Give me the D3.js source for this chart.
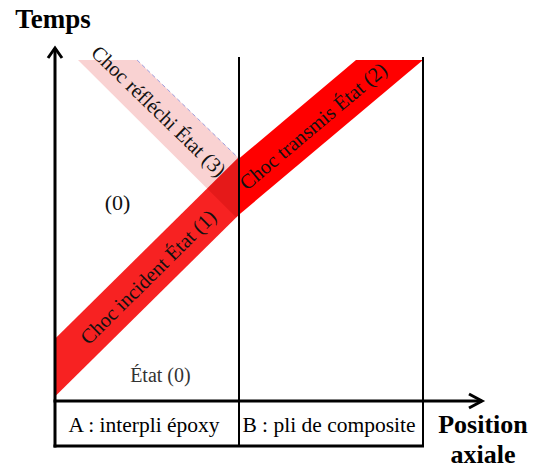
<!DOCTYPE html>
<html>
<head>
<meta charset="utf-8">
<script src="https://cdn.jsdelivr.net/npm/d3@7"></script>
<style>
  html, body { margin: 0; padding: 0; background: #fff; }
  svg { display: block; }
  text { font-family: "Liberation Serif", "Times New Roman", serif; }
</style>
</head>
<body>
<svg id="chart" width="536" height="469"></svg>
<script>
// ---------- data (position in layer units, time normalised 0..1) ----------
const layers = ["A : interpli époxy", "B : pli de composite"];
const interfaces = [0, 1, 2];

// band outlines [position, time]
const incidentBand    = [[0, 0.01], [0, 0.18], [1, 0.715], [1, 0.545]];
const transmittedBand = [[1, 0.545], [1, 0.71], [1.636, 1], [2, 1]];
const reflectedBand   = [[0.125, 1], [0.446, 1], [1, 0.71], [1, 0.545], [0.985, 0.537]];
const reflectedDashed = [[0.446, 1], [1, 0.71]];

// band labels: text, centre [position, time], band edge used for direction
const bandLabels = [
  { text: "Choc incident État (1)", at: [0.505, 0.362], edge: [[0, 0.01], [1, 0.545]] },
  { text: "Choc transmis État (2)", at: [1.402, 0.806], edge: [[1, 0.545], [2, 1]] },
  { text: "Choc réfléchi État (3)", at: [0.565, 0.85], edge: [[1, 0.71], [0.446, 1]] }
];
const stateLabels = [
  { text: "(0)",      at: [0.34, 0.582], size: 22, color: "#111" },
  { text: "État (0)", at: [0.573, 0.073], size: 20, color: "#333" }
];
const axisTitles = { y: "Temps", x: ["Position", "axiale"] };

// ---------- layout ----------
const svg = d3.select("#chart");
const x = d3.scaleLinear().domain([0, 2]).range([55, 423]);
const y = d3.scaleLinear().domain([0, 1]).range([400, 60]);
const axisY = 401, tableBottom = 446, yTop = 47, xEnd = 483, lineTop = 57;

const line = d3.line().x(d => x(d[0])).y(d => y(d[1]));
const poly = pts => line(pts) + "Z";

const defs = svg.append("defs");
defs.append("clipPath").attr("id", "clipInc").append("path").attr("d", poly(incidentBand));

// reflected band (pink)
svg.append("path").attr("d", poly(reflectedBand)).attr("fill", "#f9d2d2");
svg.append("path").attr("d", line(reflectedDashed))
  .attr("fill", "none").attr("stroke", "#9e9ee0").attr("stroke-width", 1)
  .attr("stroke-dasharray", "4,3");
// incident band
svg.append("path").attr("d", poly(incidentBand)).attr("fill", "#f72222");
// overlap reflected/incident (darker)
svg.append("path").attr("d", poly(reflectedBand)).attr("clip-path", "url(#clipInc)")
  .attr("fill", "#b00000").attr("opacity", 0.25);
// transmitted band
svg.append("path").attr("d", poly(transmittedBand)).attr("fill", "#ff0000");

// interfaces lines
svg.selectAll("line.iface").data(interfaces.slice(1)).join("line")
  .attr("class", "iface")
  .attr("x1", d => x(d)).attr("x2", d => x(d))
  .attr("y1", lineTop).attr("y2", tableBottom)
  .attr("stroke", "#000").attr("stroke-width", 2);

// axes
const ax = svg.append("g").attr("stroke", "#000").attr("fill", "none").attr("stroke-width", 3);
ax.append("line").attr("x1", x(0)).attr("x2", x(0)).attr("y1", yTop + 1).attr("y2", tableBottom + 1.5);
ax.append("path").attr("d", `M${x(0) - 7},${yTop + 11}L${x(0)},${yTop + 1}L${x(0) + 7},${yTop + 11}`);
ax.append("line").attr("x1", x(0) - 1.5).attr("x2", xEnd - 1).attr("y1", axisY).attr("y2", axisY);
ax.append("path").attr("d", `M${xEnd - 14},${axisY - 7}L${xEnd - 1},${axisY}L${xEnd - 14},${axisY + 7}`);
ax.append("line").attr("x1", x(0) - 1.5).attr("x2", x(2) + 1).attr("y1", tableBottom).attr("y2", tableBottom);

// table labels
svg.selectAll("text.layer").data(layers).join("text")
  .attr("class", "layer")
  .attr("x", (d, i) => (x(interfaces[i]) + x(interfaces[i + 1])) / 2 - (i === 0 ? 3 : 2))
  .attr("y", 432)
  .attr("text-anchor", "middle").attr("font-size", 21.5).attr("fill", "#000")
  .text(d => d);

// band labels
svg.selectAll("text.band").data(bandLabels).join("text")
  .attr("class", "band")
  .attr("transform", d => {
    const a = Math.atan2(y(d.edge[1][1]) - y(d.edge[0][1]), x(d.edge[1][0]) - x(d.edge[0][0])) * 180 / Math.PI;
    const ang = a > 90 ? a - 180 : (a < -90 ? a + 180 : a);
    return `translate(${x(d.at[0])},${y(d.at[1])}) rotate(${ang})`;
  })
  .attr("dy", "0.35em")
  .attr("text-anchor", "middle").attr("font-size", 20.5).attr("fill", "#111")
  .text(d => d.text);

// state labels
svg.selectAll("text.state").data(stateLabels).join("text")
  .attr("class", "state")
  .attr("x", d => x(d.at[0])).attr("y", d => y(d.at[1]))
  .attr("dy", "0.35em").attr("text-anchor", "middle")
  .attr("font-size", d => d.size).attr("fill", d => d.color)
  .text(d => d.text);

// axis titles
svg.append("text").attr("x", 53).attr("y", 28).attr("text-anchor", "middle")
  .attr("font-size", 27).attr("font-weight", "bold").attr("fill", "#000").text(axisTitles.y);
svg.selectAll("text.xt").data(axisTitles.x).join("text")
  .attr("class", "xt")
  .attr("x", xEnd).attr("y", (d, i) => 433 + i * 30)
  .attr("text-anchor", "middle").attr("font-size", 26).attr("font-weight", "bold").attr("fill", "#000")
  .text(d => d);
</script>
</body>
</html>
